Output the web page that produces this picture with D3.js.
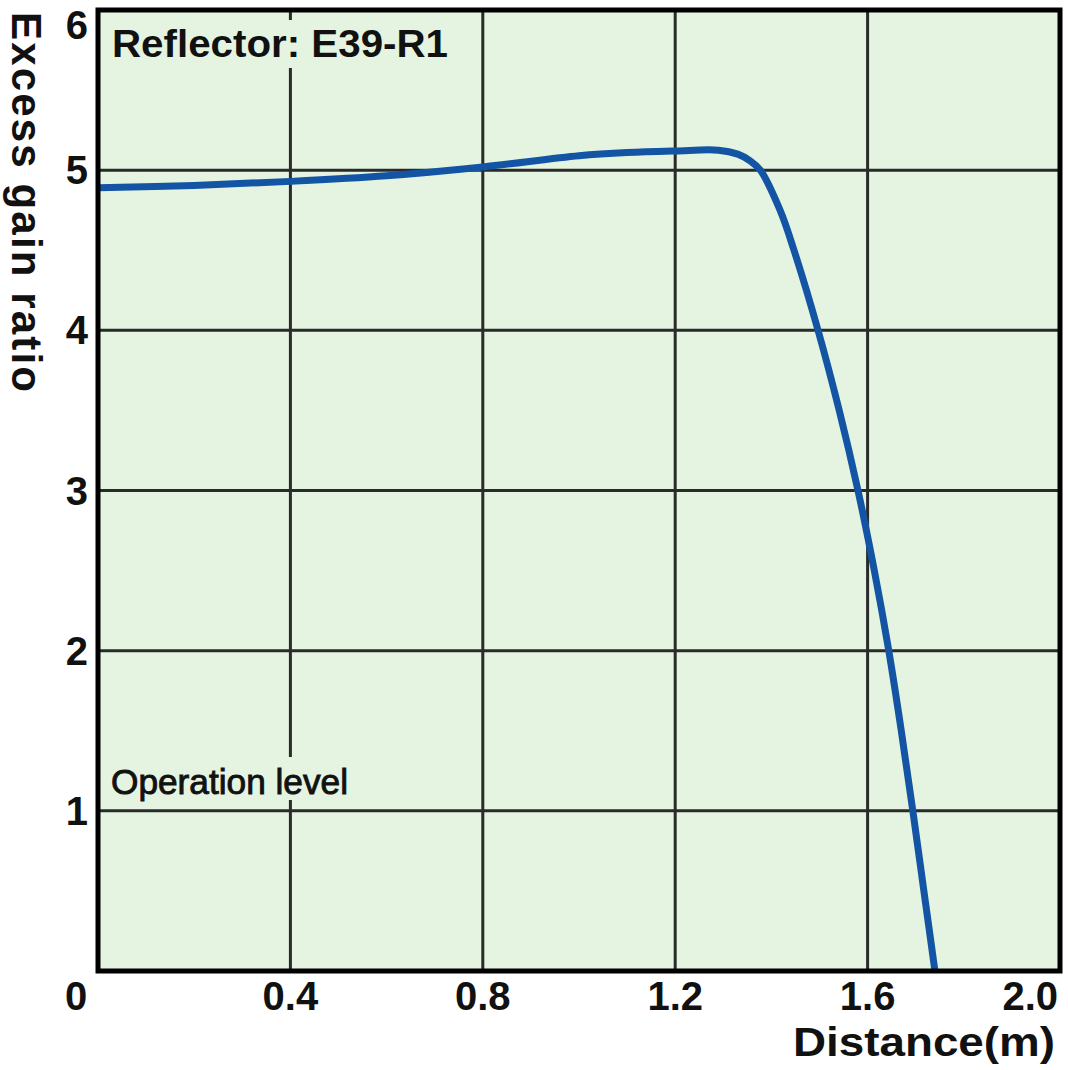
<!DOCTYPE html>
<html>
<head>
<meta charset="utf-8">
<script src="https://cdn.jsdelivr.net/npm/d3@7/dist/d3.min.js"></script>
<style>
  html, body { margin: 0; padding: 0; background: #fff; }
  svg { display: block; }
  text { font-family: "Liberation Sans", Arial, Helvetica, sans-serif; fill: #111; }
</style>
</head>
<body>
<svg id="chart" width="1068" height="1070"></svg>
<script>
// values
const distance = [0, 0.2, 0.4, 0.6, 0.8, 1.0, 1.1, 1.2, 1.29, 1.33, 1.355, 1.377,
  1.418, 1.447, 1.497, 1.541, 1.580, 1.614, 1.644, 1.670, 1.694, 1.717, 1.740];
const gain = [4.89, 4.905, 4.93, 4.965, 5.02, 5.09, 5.11, 5.12, 5.125, 5.10, 5.06, 5.0,
  4.75, 4.5, 4.0, 3.5, 3.0, 2.5, 2.0, 1.5, 1.0, 0.5, 0];
const xTicks = [0.4, 0.8, 1.2, 1.6, 2.0];
const xTickLabels = ['0.4', '0.8', '1.2', '1.6', '2.0'];
const yTicks = [1, 2, 3, 4, 5, 6];
const yTickLabels = ['1', '2', '3', '4', '5', '6'];
const title = 'Reflector: E39-R1';
const levelLabel = 'Operation level';

const svg = d3.select('#chart');
const x = d3.scaleLinear().domain([0, 2.0]).range([98, 1060]);
const y = d3.scaleLinear().domain([0, 6]).range([971, 10]);

const plotBg = '#e4f4e1';
const gridColor = '#2a2a2a';

// plot background
svg.append('rect')
  .attr('x', x(0)).attr('y', y(6))
  .attr('width', x(2) - x(0)).attr('height', y(0) - y(6))
  .attr('fill', plotBg);

// grid
const grid = svg.append('g');
grid.selectAll('line.vx').data(xTicks.slice(0, -1)).join('line')
  .attr('x1', d => x(d)).attr('x2', d => x(d))
  .attr('y1', y(6)).attr('y2', y(0))
  .attr('stroke', gridColor).attr('stroke-width', 3);
grid.selectAll('line.hy').data(yTicks.slice(0, -1)).join('line')
  .attr('x1', x(0)).attr('x2', x(2))
  .attr('y1', d => y(d)).attr('y2', d => y(d))
  .attr('stroke', gridColor).attr('stroke-width', 3);

// labels inside the plot, knocked out of the grid
svg.append('rect').attr('x', 106).attr('y', 20).attr('width', 350).attr('height', 48).attr('fill', plotBg);
svg.append('text').attr('x', 112).attr('y', 57)
  .attr('font-size', 38).attr('font-weight', 'bold')
  .attr('textLength', 336).attr('lengthAdjust', 'spacingAndGlyphs')
  .text(title);

svg.append('rect').attr('x', 106).attr('y', 757).attr('width', 250).attr('height', 43).attr('fill', plotBg);
svg.append('text').attr('x', 111).attr('y', 794)
  .attr('font-size', 35)
  .attr('textLength', 237).attr('lengthAdjust', 'spacingAndGlyphs')
  .style('stroke', '#111').style('stroke-width', 0.9)
  .text(levelLabel);

// curve
const line = d3.line()
  .x(d => x(d[0]))
  .y(d => y(d[1]))
  .curve(d3.curveCatmullRom.alpha(0.5));
svg.append('path')
  .datum(distance.map((d, i) => [d, gain[i]]))
  .attr('d', line)
  .attr('fill', 'none')
  .attr('stroke', '#1454a4')
  .attr('stroke-width', 7)
  .attr('stroke-linejoin', 'round');

// frame
svg.append('rect')
  .attr('x', x(0)).attr('y', y(6))
  .attr('width', x(2) - x(0)).attr('height', y(0) - y(6))
  .attr('fill', 'none').attr('stroke', '#000').attr('stroke-width', 5);

// x tick labels
svg.append('g').selectAll('text').data(xTicks).join('text')
  .attr('x', (d, i) => i === xTicks.length - 1 ? x(d) - 2 : x(d))
  .attr('y', 1010)
  .attr('text-anchor', (d, i) => i === xTicks.length - 1 ? 'end' : 'middle')
  .attr('font-size', 40).attr('font-weight', 'bold')
  .text((d, i) => xTickLabels[i]);
svg.append('text').attr('x', 76).attr('y', 1010)
  .attr('text-anchor', 'middle')
  .attr('font-size', 40).attr('font-weight', 'bold')
  .text('0');

// y tick labels
svg.append('g').selectAll('text').data(yTicks).join('text')
  .attr('x', 88)
  .attr('y', d => Math.max(y(d), 25))
  .attr('dy', '0.35em')
  .attr('text-anchor', 'end')
  .attr('font-size', 40).attr('font-weight', 'bold')
  .text((d, i) => yTickLabels[i]);

// axis titles
svg.append('text')
  .attr('transform', 'translate(12,12) rotate(90)')
  .attr('font-size', 42).attr('font-weight', 'bold')
  .attr('textLength', 380).attr('lengthAdjust', 'spacing')
  .text('Excess gain ratio');

svg.append('text').attr('x', 1055).attr('y', 1056)
  .attr('text-anchor', 'end')
  .attr('font-size', 40).attr('font-weight', 'bold')
  .attr('textLength', 262).attr('lengthAdjust', 'spacingAndGlyphs')
  .text('Distance(m)');
</script>
</body>
</html>
